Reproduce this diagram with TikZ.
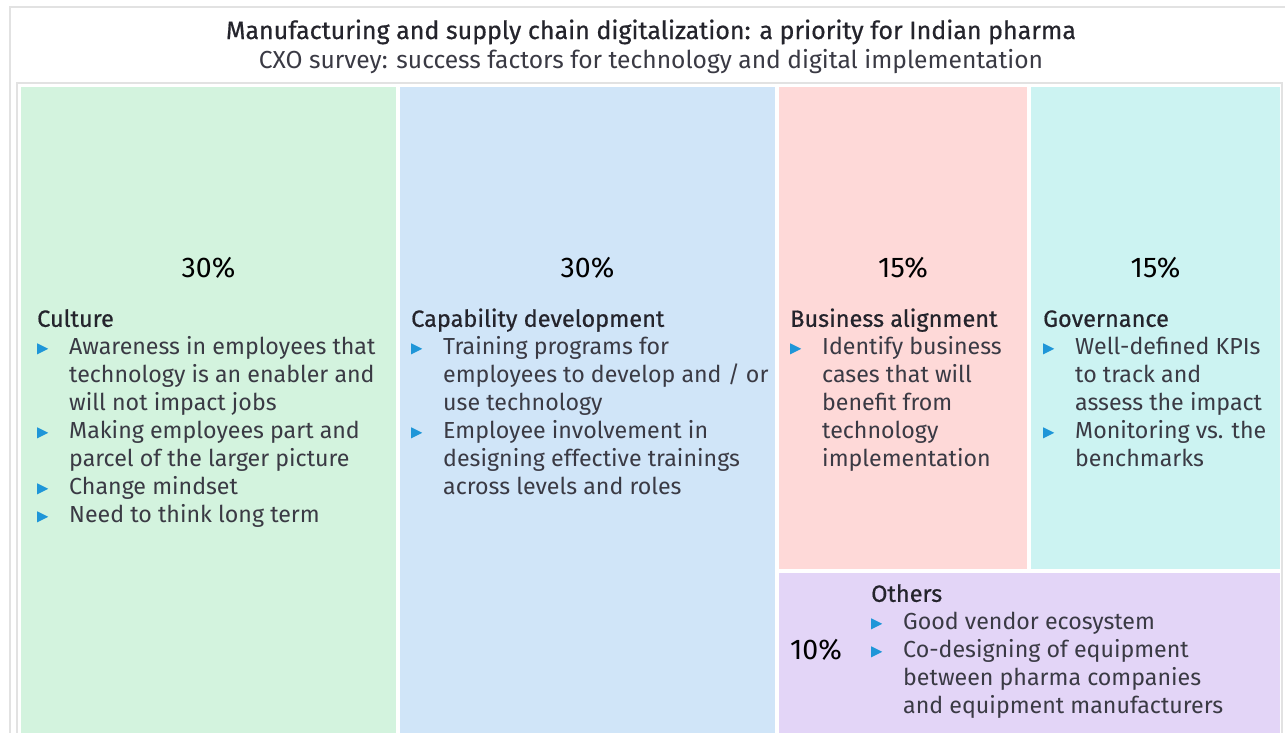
\documentclass[tikz,border=0pt]{standalone}
\usepackage{fontspec}
\setmainfont{Fira Sans}[BoldFeatures={FakeBold=0}]
\newfontfamily\medfont{Fira Sans}[FakeBold=0.6]
\usepackage{array}
\definecolor{cgreen}{HTML}{D3F3DE}
\definecolor{cblue}{HTML}{D0E5F8}
\definecolor{cpink}{HTML}{FED9D8}
\definecolor{ccyan}{HTML}{CCF3F2}
\definecolor{clav}{HTML}{E3D5F7}
\definecolor{txt}{HTML}{3A3A44}
\definecolor{hdt}{HTML}{24242C}
\definecolor{bul}{HTML}{1F96D8}
\definecolor{frame}{HTML}{E2E2E2}
\newcommand{\bsym}{\tikz[baseline=0pt]\fill[bul] (0pt,0.5pt) -- (11pt,6pt) -- (0pt,11.5pt) -- cycle;}
\newcommand{\bl}[1]{\bsym & #1 \\}
\newcommand{\cl}[1]{ & #1 \\}
\newcommand{\hd}[1]{\multicolumn{2}{@{}l@{}}{\color{hdt}\medfont\fontsize{23.5}{28}\selectfont #1}\\}
\tikzset{
  pct/.style={font=\fontsize{28.5}{32}\selectfont, text=black, anchor=base, inner sep=0pt},
  lst/.style={anchor=north west, inner sep=0pt, text=txt, font=\fontsize{23.2}{28}\selectfont, align=left},
}
\begin{document}
\begin{tikzpicture}[x=1pt,y=-1pt]
\useasboundingbox (0,0) rectangle (1285,732);
\fill[white] (0,0) rectangle (1285,732);
% frames
\draw[frame, line width=2pt] (10,733) -- (10,7) -- (1290,7);
\draw[frame, line width=1.5pt] (17,733) -- (17,83) -- (1282,83) -- (1282,733);
% title
\node[anchor=base, text=hdt, font=\medfont\fontsize{25}{28}\selectfont, inner sep=0pt] (title) at (651,39) {Manufacturing and supply chain digitalization: a priority for Indian pharma};
\node[anchor=base, text=txt, font=\fontsize{24.6}{28}\selectfont, inner sep=0pt] (sub) at (651,68) {CXO survey: success factors for technology and digital implementation};
% boxes
\fill[cgreen] (21,87) rectangle (396,733) coordinate (culturebox);
\fill[cblue] (400,87) rectangle (775,733) coordinate (capbox);
\fill[cpink] (779,87) rectangle (1027,569) coordinate (busbox);
\fill[ccyan] (1031,87) rectangle (1280,569) coordinate (govbox);
\fill[clav] (779,573) rectangle (1280,733) coordinate (othbox);
% percentages
\node[pct] (p1) at (208.5,277) {30\%};
\node[pct] (p2) at (587.5,277) {30\%};
\node[pct] (p3) at (903,277) {15\%};
\node[pct] (p4) at (1155.5,277) {15\%};
\node[pct] (p5) at (816,659) {10\%};
% lists
\node[lst] (culture) at (37,307) {\begin{tabular}{@{}p{32pt}@{}l@{}}
\hd{Culture}
\bl{Awareness in employees that}
\cl{technology is an enabler and}
\cl{will not impact jobs}
\bl{Making employees part and}
\cl{parcel of the larger picture}
\bl{Change mindset}
\bl{Need to think long term}
\end{tabular}};
\node[lst] (capab) at (411,307) {\begin{tabular}{@{}p{32pt}@{}l@{}}
\hd{Capability development}
\bl{Training programs for}
\cl{employees to develop and / or}
\cl{use technology}
\bl{Employee involvement in}
\cl{designing effective trainings}
\cl{across levels and roles}
\end{tabular}};
\node[lst] (business) at (790,307) {\begin{tabular}{@{}p{32pt}@{}l@{}}
\hd{Business alignment}
\bl{Identify business}
\cl{cases that will}
\cl{benefit from}
\cl{technology}
\cl{implementation}
\end{tabular}};
\node[lst] (gov) at (1043,307) {\begin{tabular}{@{}p{32pt}@{}l@{}}
\hd{Governance}
\bl{Well-defined KPIs}
\cl{to track and}
\cl{assess the impact}
\bl{Monitoring vs. the}
\cl{benchmarks}
\end{tabular}};
\node[lst] (others) at (871,582) {\begin{tabular}{@{}p{32pt}@{}l@{}}
\hd{Others}
\bl{Good vendor ecosystem}
\bl{Co-designing of equipment}
\cl{between pharma companies}
\cl{and equipment manufacturers}
\end{tabular}};
\end{tikzpicture}
\end{document}
